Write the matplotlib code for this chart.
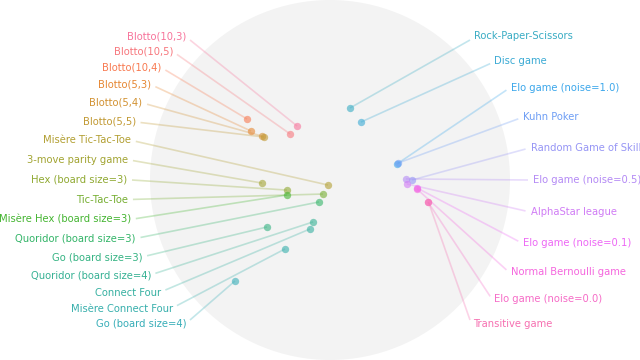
import numpy as np
import matplotlib
matplotlib.use("Agg")
import matplotlib.pyplot as plt
import seaborn as sns

left_games = ["Blotto(10,3)", "Blotto(10,5)", "Blotto(10,4)", "Blotto(5,3)", "Blotto(5,4)",
              "Blotto(5,5)", "Misère Tic-Tac-Toe", "3-move parity game", "Hex (board size=3)",
              "Tic-Tac-Toe", "Misère Hex (board size=3)", "Quoridor (board size=3)",
              "Go (board size=3)", "Quoridor (board size=4)", "Connect Four",
              "Misère Connect Four", "Go (board size=4)"]
left_x = [-0.183, -0.222, -0.461, -0.439, -0.378, -0.367, -0.011, -0.378, -0.239, -0.039,
          -0.239, -0.061, -0.350, -0.094, -0.111, -0.250, -0.528]
left_y = [0.300, 0.256, 0.339, 0.272, 0.244, 0.239, -0.028, -0.017, -0.056, -0.078,
          -0.083, -0.122, -0.261, -0.233, -0.272, -0.383, -0.561]

right_games = ["Rock-Paper-Scissors", "Disc game", "Elo game (noise=1.0)", "Kuhn Poker",
               "Random Game of Skill", "Elo game (noise=0.5)", "AlphaStar league",
               "Elo game (noise=0.1)", "Normal Bernoulli game", "Elo game (noise=0.0)",
               "Transitive game"]
right_x = [0.111, 0.172, 0.372, 0.378, 0.456, 0.422, 0.428, 0.483, 0.483, 0.544, 0.547]
right_y = [0.400, 0.322, 0.089, 0.094, 0.000, 0.006, -0.022, -0.044, -0.050, -0.122, -0.122]

games = left_games + right_games
xs = left_x + right_x
ys = left_y + right_y
colors = sns.husl_palette(len(games), h=0.992, s=0.9, l=0.66)

fig = plt.figure(figsize=(6.4, 3.6), dpi=100)
ax = fig.add_axes([0, 0, 1, 1])
ax.set_xlim(-330 / 180, 310 / 180)
ax.set_ylim(-1, 1)
ax.axis("off")

ax.add_patch(plt.Circle((0, 0), 1.0, color="#f3f3f3", zorder=0, lw=0))

R_text = 1.128
R_line = 1.10
nl = len(left_games)
nr = len(right_games)
for i, g in enumerate(games):
    if i < nl:
        ang = np.deg2rad(135 + i * 90 / (nl - 1))
        ha = "right"
    else:
        j = i - nl
        ang = np.deg2rad(45 - j * 90 / (nr - 1))
        ha = "left"
    c = colors[i]
    lx, ly = R_line * np.cos(ang), R_line * np.sin(ang)
    tx, ty = R_text * np.cos(ang), R_text * np.sin(ang)
    ax.plot([xs[i], lx], [ys[i], ly], color=c, alpha=0.3, lw=1.2, zorder=1,
            solid_capstyle="butt")
    ax.scatter([xs[i]], [ys[i]], s=28, color=c, alpha=0.6, lw=0, zorder=2)
    ax.text(tx, ty, g, color=c, fontsize=7.2, ha=ha, va="center")

fig.savefig("out.png", dpi=100)
